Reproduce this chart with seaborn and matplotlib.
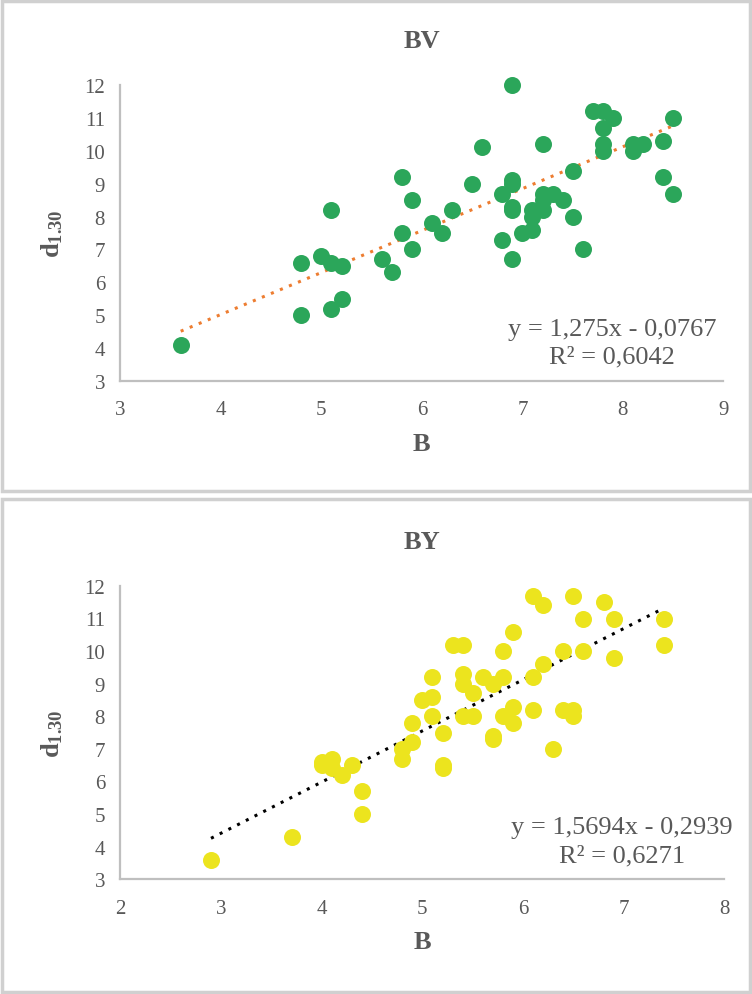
import numpy as np
import pandas as pd
import matplotlib
matplotlib.use("Agg")
import matplotlib.pyplot as plt
from matplotlib.patches import Rectangle
import seaborn as sns

# BV data (B vs d1.30)
bv_b = [3.6, 4.8, 4.8, 5.0, 5.1, 5.1, 5.1, 5.2, 5.2, 5.6, 5.7, 5.8, 5.8, 5.9, 5.9,
        6.1, 6.2, 6.3, 6.5, 6.6, 6.8, 6.8, 6.9, 6.9, 6.9, 6.9, 6.9, 6.9, 7.0, 7.1,
        7.1, 7.1, 7.2, 7.2, 7.2, 7.2, 7.3, 7.4, 7.5, 7.5, 7.6, 7.7, 7.8, 7.9, 7.8,
        7.8, 7.8, 8.1, 8.1, 8.2, 8.4, 8.4, 8.5, 8.5]
bv_d = [4.1, 6.6, 5.0, 6.8, 8.2, 6.6, 5.2, 6.5, 5.5, 6.7, 6.3, 9.2, 7.5, 8.5, 7.0,
        7.8, 7.5, 8.2, 9.0, 10.1, 8.7, 7.3, 12.0, 9.1, 9.0, 8.3, 8.2, 6.7, 7.5, 7.6,
        8.2, 8.0, 8.2, 8.7, 8.5, 10.2, 8.7, 8.5, 8.0, 9.4, 7.0, 11.2, 11.2, 11.0, 10.7,
        10.2, 10.0, 10.0, 10.2, 10.2, 10.3, 9.2, 11.0, 8.7]

# BY data
by_b = [2.9, 3.7, 4.0, 4.0, 4.1, 4.1, 4.2, 4.3, 4.4, 4.4, 4.8, 4.8, 4.9, 4.9, 5.0,
        5.1, 5.1, 5.1, 5.2, 5.2, 5.2, 5.3, 5.4, 5.4, 5.4, 5.4, 5.5, 5.5, 5.6, 5.7,
        5.7, 5.7, 5.8, 5.8, 5.8, 5.9, 5.9, 5.9, 6.1, 6.1, 6.1, 6.2, 6.2, 6.3, 6.4,
        6.4, 6.5, 6.5, 6.5, 6.6, 6.6, 6.8, 6.9, 6.9, 7.4, 7.4]
by_d = [3.6, 4.3, 6.5, 6.6, 6.7, 6.4, 6.2, 6.5, 5.7, 5.0, 6.7, 7.0, 7.2, 7.8, 8.5,
        8.6, 8.0, 9.2, 7.5, 6.5, 6.4, 10.2, 10.2, 9.3, 9.0, 8.0, 8.0, 8.7, 9.2, 9.0,
        7.4, 7.3, 9.2, 10.0, 8.0, 8.3, 7.8, 10.6, 9.2, 8.2, 11.7, 11.4, 9.6, 7.0, 10.0,
        8.2, 8.2, 8.0, 11.7, 11.0, 10.0, 11.5, 11.0, 9.8, 11.0, 10.2]

# trendline coefficients as printed on the chart
bv_fit = (1.275, -0.0767, 0.6042)
by_fit = (1.5694, -0.2939, 0.6271)

sns.set_style("white")
plt.rcParams['font.family'] = ['Liberation Serif', 'DejaVu Serif']
plt.rcParams['mathtext.fontset'] = 'custom'
plt.rcParams['mathtext.rm'] = 'Liberation Serif'
plt.rcParams['mathtext.bf'] = 'Liberation Serif:bold'

grey = '#595959'
fig = plt.figure(figsize=(7.52, 9.95), dpi=100)

# panel borders
for y0, h in [(1 - 494 / 995, 492 / 995), (0.0, 495 / 995)]:
    fig.patches.append(Rectangle((2 / 752, y0 + 2 / 995), 748 / 752, h - 2 / 995,
                                 transform=fig.transFigure, fill=False,
                                 edgecolor='#d0d0d0', linewidth=2.5))


def panel(rect, x, y, fit, color, line_color, title, xlim, eq_pos):
    ax = fig.add_axes(rect)
    df = pd.DataFrame({'B': x, 'd': y})
    sns.scatterplot(data=df, x='B', y='d', ax=ax, color=color, s=150,
                    edgecolor=color, linewidth=0, zorder=3, clip_on=False)
    xs = np.array([min(x), max(x)])
    ax.plot(xs, fit[0] * xs + fit[1], color=line_color, linestyle=(0, (1, 2.2)),
            linewidth=2.2, zorder=2)
    ax.set_xlim(*xlim)
    ax.set_ylim(3, 12)
    ax.set_xticks(range(xlim[0], xlim[1] + 1))
    ax.set_yticks(range(3, 13))
    for side in ['top', 'right']:
        ax.spines[side].set_visible(False)
    for side in ['left', 'bottom']:
        ax.spines[side].set_color('#bfbfbf')
        ax.spines[side].set_linewidth(1.6)
    ax.tick_params(length=0, labelsize=15, labelcolor=grey)
    ax.tick_params(axis='x', pad=14)
    ax.tick_params(axis='y', pad=11)
    ax.set_xlabel('B', fontsize=19, fontweight='bold', color=grey, labelpad=9)
    ax.set_ylabel(r'$\mathbf{d_{1.30}}$', fontsize=19, color=grey, labelpad=14)
    ax.set_title(title, fontsize=19, fontweight='bold', color=grey, pad=27)
    eq = 'y = {}x - {}\nR² = {}'.format(str(fit[0]).replace('.', ','),
                                        str(-fit[1]).replace('.', ','),
                                        str(fit[2]).replace('.', ','))
    ax.text(eq_pos[0], eq_pos[1], eq, transform=ax.transAxes, ha='center',
            va='center', fontsize=19, color=grey, linespacing=1.35)
    return ax


panel([120.4 / 752, 1 - 382 / 995, 603 / 752, 296 / 995], bv_b, bv_d, bv_fit,
      '#2BA65A', '#ED7D31', 'BV', (3, 9), (0.815, 0.13))
panel([120.4 / 752, 1 - 880.3 / 995, 604 / 752, 293.4 / 995], by_b, by_d, by_fit,
      '#ECE41E', '#000000', 'BY', (2, 8), (0.83, 0.13))

fig.savefig('out.png', dpi=100)
